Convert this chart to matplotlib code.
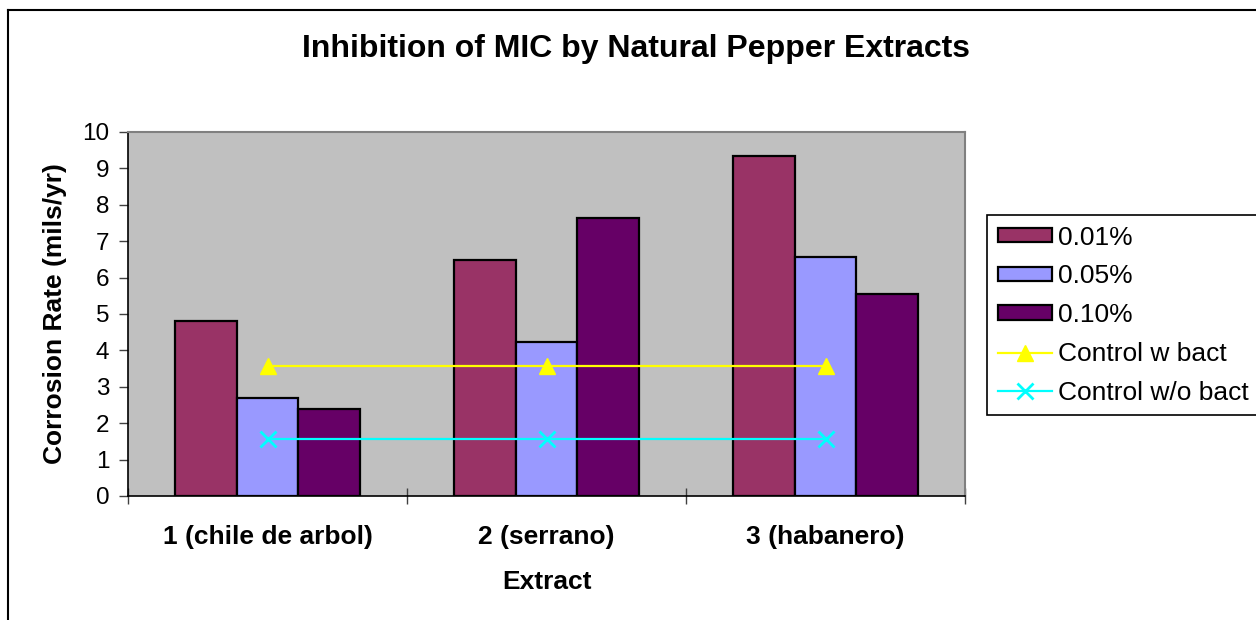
import matplotlib.pyplot as plt
from matplotlib.lines import Line2D
import numpy as np

plt.rcParams['font.family'] = ['Liberation Sans', 'DejaVu Sans']

extracts = ["1 (chile de arbol)", "2 (serrano)", "3 (habanero)"]
conc_labels = ["0.01%", "0.05%", "0.10%"]
rate_001 = [4.81, 6.49, 9.33]
rate_005 = [2.70, 4.22, 6.57]
rate_010 = [2.38, 7.65, 5.55]
control_w_bact = [3.58, 3.58, 3.58]
control_wo_bact = [1.57, 1.57, 1.57]

bar_colors = ["#993366", "#9999FF", "#660066"]

fig = plt.figure(figsize=(12.56, 6.2), dpi=100)
ax = fig.add_axes([128/1256, 124/620, 837/1256, 364/620])
ax.set_facecolor("#C0C0C0")

x = np.arange(len(extracts))
w = 0.222
bars = []
for i, (vals, lab) in enumerate(zip([rate_001, rate_005, rate_010], conc_labels)):
    b = ax.bar(x + (i - 1) * w, vals, w, color=bar_colors[i], edgecolor="black",
               linewidth=1.6, label=lab, zorder=2)
    bars.append(b)

l1, = ax.plot(x, control_w_bact, color="#FFFF00", lw=1.6, marker="^", ms=11,
              label="Control w bact", zorder=3)
l2, = ax.plot(x, control_wo_bact, color="#00FFFF", lw=1.6, marker="x", ms=11, mew=2,
              label="Control w/o bact", zorder=3)

ax.set_xlim(-0.5, 2.5)
ax.set_ylim(0, 10)
ax.set_yticks(range(0, 11))
ax.tick_params(axis="y", labelsize=17.5, length=6.5, width=1, color="#404040", pad=7)

# category boundary ticks, labels at centres
ax.set_xticks([-0.5, 0.5, 1.5, 2.5])
ax.set_xticklabels([])
ax.tick_params(axis="x", which="major", direction="inout", length=11.5, width=1, color="#404040")
ax.set_xticks(x, minor=True)
ax.set_xticklabels(extracts, minor=True, fontsize=19, fontweight="bold")
ax.tick_params(axis="x", which="minor", length=0, pad=21)

for s in ["top", "right"]:
    ax.spines[s].set_color("#808080")
    ax.spines[s].set_linewidth(1.5)
for s in ["left", "bottom"]:
    ax.spines[s].set_color("black")
    ax.spines[s].set_linewidth(1.2)

ax.set_xlabel("Extract", fontsize=19, fontweight="bold", labelpad=15)
ax.set_ylabel("Corrosion Rate (mils/yr)", fontsize=19, fontweight="bold", labelpad=11)
fig.text(636/1256, 1 - 49/620, "Inhibition of MIC by Natural Pepper Extracts",
         ha="center", va="center", fontsize=23, fontweight="bold")

leg = ax.legend(handles=bars + [l1, l2], loc="upper left",
                bbox_to_anchor=(987/1256, 1 - 215/620),
                bbox_transform=fig.transFigure, fontsize=19, frameon=True,
                fancybox=False, edgecolor="black", framealpha=1,
                handlelength=2.08, handleheight=0.47, handletextpad=0.2,
                labelspacing=0.56, borderpad=0.4, borderaxespad=0)
leg.get_frame().set_linewidth(1.2)

fig.add_artist(Line2D([8/1256, 8/1256], [0, 1 - 10/620], color="black", lw=1.5))
fig.add_artist(Line2D([8/1256, 1], [1 - 10/620, 1 - 10/620], color="black", lw=1.5))

fig.savefig("out.png", dpi=100)
